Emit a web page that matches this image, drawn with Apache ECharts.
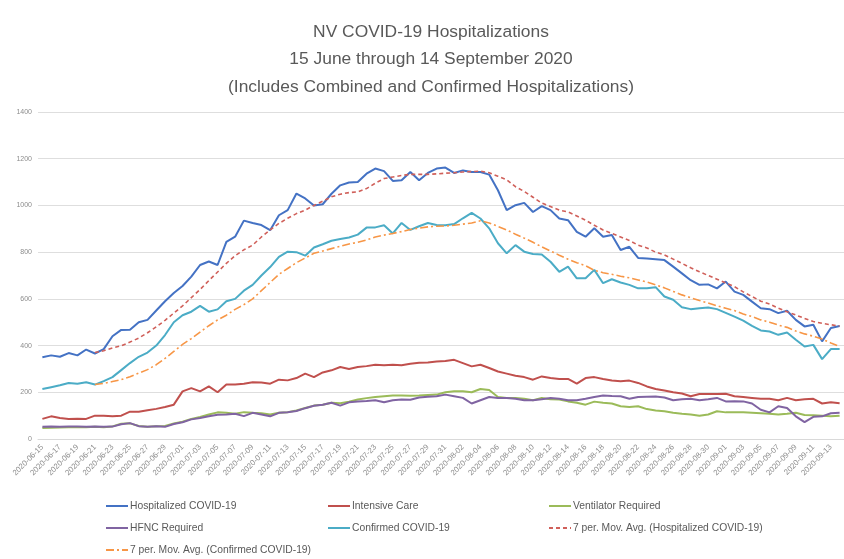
<!DOCTYPE html>
<html><head><meta charset="utf-8">
<script src="https://cdn.jsdelivr.net/npm/echarts@6/dist/echarts.min.js"></script>
<style>html,body{margin:0;padding:0;background:#fff}#c{width:844px;height:559px}</style>
</head><body><div id="c"></div>
<script>
const titleLines = ['NV COVID-19 Hospitalizations', '15 June through 14 September 2020', '(Includes Combined and Confirmed Hospitalizations)'];
const categories = [
'2020-06-15','2020-06-16','2020-06-17','2020-06-18','2020-06-19','2020-06-20','2020-06-21','2020-06-22','2020-06-23','2020-06-24',
'2020-06-25','2020-06-26','2020-06-27','2020-06-28','2020-06-29','2020-06-30','2020-07-01','2020-07-02','2020-07-03','2020-07-04',
'2020-07-05','2020-07-06','2020-07-07','2020-07-08','2020-07-09','2020-07-10','2020-07-11','2020-07-12','2020-07-13','2020-07-14',
'2020-07-15','2020-07-16','2020-07-17','2020-07-18','2020-07-19','2020-07-20','2020-07-21','2020-07-22','2020-07-23','2020-07-24',
'2020-07-25','2020-07-26','2020-07-27','2020-07-28','2020-07-29','2020-07-30','2020-07-31','2020-08-01','2020-08-02','2020-08-03',
'2020-08-04','2020-08-05','2020-08-06','2020-08-07','2020-08-08','2020-08-09','2020-08-10','2020-08-11','2020-08-12','2020-08-13',
'2020-08-14','2020-08-15','2020-08-16','2020-08-17','2020-08-18','2020-08-19','2020-08-20','2020-08-21','2020-08-22','2020-08-23',
'2020-08-24','2020-08-25','2020-08-26','2020-08-27','2020-08-28','2020-08-29','2020-08-30','2020-08-31','2020-09-01','2020-09-02',
'2020-09-03','2020-09-04','2020-09-05','2020-09-06','2020-09-07','2020-09-08','2020-09-09','2020-09-10','2020-09-11','2020-09-12',
'2020-09-13','2020-09-14'];
const hospitalized = [350,358,352,368,358,383,366,385,440,467,
468,500,510,550,590,625,655,695,745,760,
745,844,866,935,925,916,894,958,980,1051,
1030,1000,1005,1050,1086,1098,1100,1136,1158,1147,
1105,1108,1143,1108,1139,1158,1162,1139,1150,1143,
1143,1132,1065,980,1001,1011,972,997,980,944,
937,887,866,902,866,873,809,823,775,773,
770,766,738,709,680,660,662,645,674,631,
617,588,560,556,539,549,510,482,489,418,
475,484];
const intensiveCare = [86,97,90,86,87,86,100,100,97,100,
117,117,123,129,137,147,204,218,204,225,
200,233,233,237,243,242,237,254,251,261,
280,265,285,294,308,300,308,312,318,316,
318,316,322,326,328,332,334,339,325,311,
318,304,289,280,271,265,254,268,261,257,
257,237,261,265,257,250,247,250,240,225,
214,208,200,195,183,193,193,193,194,183,
180,176,172,172,166,176,166,170,172,152,
157,153];
const ventilator = [47,48,49,50,51,50,52,50,54,65,
67,56,52,55,56,66,74,86,94,105,
114,112,108,115,112,110,105,112,115,122,
133,143,147,155,153,160,169,175,180,183,
186,186,185,186,188,190,200,204,204,200,
214,210,180,176,176,172,166,176,170,169,
161,155,147,160,155,152,140,137,140,128,
122,119,112,108,105,100,105,119,114,114,
114,112,110,108,105,108,112,103,102,100,
97,100];
const hfnc = [52,53,52,54,53,52,54,52,53,63,
68,55,52,55,52,64,72,84,90,97,
104,105,108,98,112,105,97,112,115,120,
132,142,147,155,143,157,161,163,166,157,
166,169,168,178,181,183,190,183,176,152,
166,180,176,176,172,166,166,170,176,172,
166,166,172,180,186,184,183,172,180,181,
182,178,166,170,172,166,170,176,161,162,
161,152,125,114,140,133,97,72,95,97,
110,112];
const confirmed = [214,222,230,240,237,243,233,248,265,295,
325,352,370,400,445,500,530,545,570,545,
555,590,600,635,660,700,736,780,802,800,
785,820,834,849,856,863,875,905,906,915,
880,925,895,911,925,916,915,920,945,968,
944,902,838,795,830,802,792,790,759,716,
738,688,688,724,667,684,670,660,645,645,
650,610,596,564,556,560,563,556,540,524,
507,484,465,460,446,456,425,396,403,342,
385,385];
const maHospitalized = [null,null,null,null,null,null,370,378,390,399,
415,432,455,480,508,539,570,605,640,678,
715,752,785,810,830,865,895,923,945,965,
980,1000,1018,1037,1048,1055,1058,1072,1095,1115,
1122,1128,1133,1133,1133,1135,1138,1140,1143,1145,
1147,1140,1125,1110,1080,1060,1035,1010,995,980,
972,955,937,915,895,880,865,850,830,818,
800,788,770,752,733,716,700,684,668,652,
630,610,590,578,560,545,531,516,503,495,
489,484];
const maConfirmed = [null,null,null,null,null,null,233,238,246,254,
267,282,297,318,345,375,405,430,458,485,
510,530,555,575,600,635,670,705,730,755,
775,795,805,815,825,835,842,852,865,873,
880,888,897,903,908,911,912,915,920,925,
934,925,910,895,877,860,842,823,805,787,
770,755,742,722,712,705,697,690,681,672,
660,647,632,617,605,593,582,570,560,550,
535,524,510,500,488,478,462,450,440,428,
411,396];
const yTicks = {min: 0, max: 1400, interval: 200};

const FONT = '"Liberation Sans", Arial, sans-serif';
const TXT = '#595959';
const chart = echarts.init(document.getElementById('c'));
function mk(name, data, color, width, type) {
  return {name, type:'line', data, symbol:'none', connectNulls:false,
    lineStyle:{color, width, type: type || 'solid'}, itemStyle:{color}};
}
const titleTops = [24, 51, 79];
chart.setOption({
  animation:false,
  backgroundColor:'#ffffff',
  title: titleLines.map((t,i)=>({text:t, left:431, top:titleTops[i], textAlign:'center', padding:0,
    textStyle:{fontFamily:FONT, fontSize:17.4, fontWeight:'normal', color:TXT}})),
  grid:{left:38, right:0, top:112, bottom:120, containLabel:false, outerBoundsMode:'none'},
  xAxis:{type:'category', data:categories, boundaryGap:true,
    axisLine:{lineStyle:{color:'#d9d9d9'}}, axisTick:{show:false},
    axisLabel:{interval:1, rotate:45, fontSize:7.8, color:'#8c8c8c', margin:7, fontFamily:FONT}},
  yAxis:{type:'value', min:yTicks.min, max:yTicks.max, interval:yTicks.interval,
    axisLine:{show:false}, axisTick:{show:false},
    axisLabel:{fontSize:7, color:'#8c8c8c', margin:6, fontFamily:FONT, formatter: v => String(v)},
    splitLine:{lineStyle:{color:'#dedede', width:1}}},
  legend:[
    {data:['Hospitalized COVID-19','HFNC Required','7 per. Mov. Avg. (Confirmed COVID-19)'], left:105},
    {data:['Intensive Care','Confirmed COVID-19'], left:327},
    {data:['Ventilator Required','7 per. Mov. Avg. (Hospitalized COVID-19)'], left:548}
  ].map(l=>Object.assign(l,{orient:'vertical', top:501, padding:0, itemWidth:22, itemHeight:12, itemGap:12,
     itemStyle:{opacity:0},
     textStyle:{fontFamily:FONT, fontSize:10.3, color:TXT, padding:[0,0,0,-3]}})),
  series:[
    mk('Hospitalized COVID-19', hospitalized, '#4472c4', 2),
    mk('Intensive Care', intensiveCare, '#c0504d', 2),
    mk('Ventilator Required', ventilator, '#9bbb59', 2),
    mk('HFNC Required', hfnc, '#8064a2', 2),
    mk('Confirmed COVID-19', confirmed, '#4bacc6', 2),
    mk('7 per. Mov. Avg. (Hospitalized COVID-19)', maHospitalized, '#d0605a', 1.6, [4,3]),
    mk('7 per. Mov. Avg. (Confirmed COVID-19)', maConfirmed, '#f79646', 1.6, [8,3,2,3])
  ]
});
</script></body></html>
